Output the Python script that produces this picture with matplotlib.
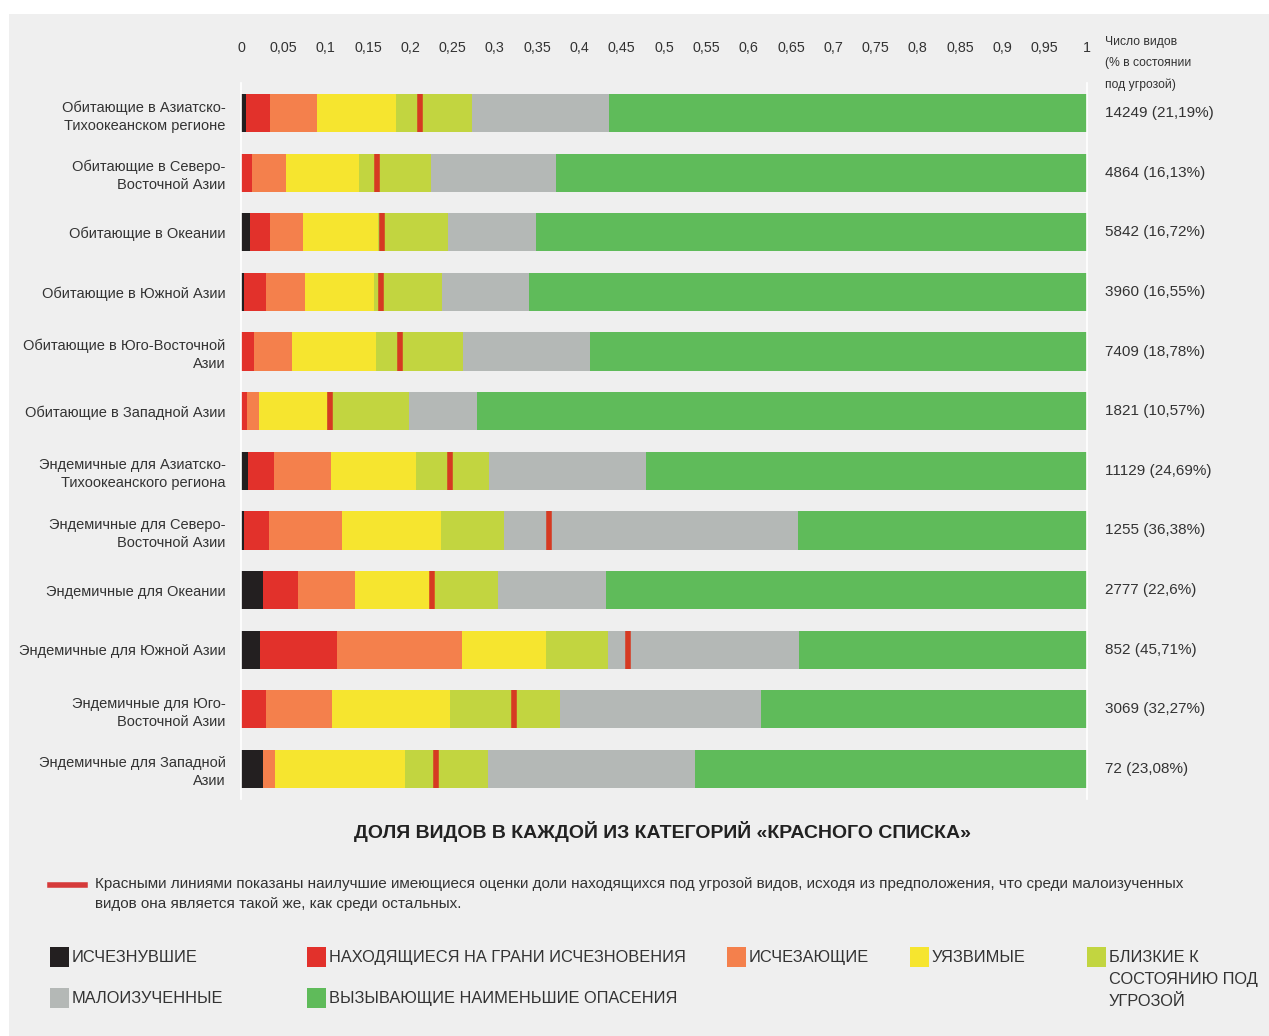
import matplotlib
matplotlib.use("Agg")
import matplotlib.pyplot as plt
from matplotlib.patches import Rectangle
from matplotlib.lines import Line2D
import numpy as np

plt.rcParams['font.family'] = ['Liberation Sans', 'DejaVu Sans']

regions = [
    "Обитающие в Азиатско-\nТихоокеанском регионе",
    "Обитающие в Северо-\nВосточной Азии",
    "Обитающие в Океании",
    "Обитающие в Южной Азии",
    "Обитающие в Юго-Восточной\nАзии",
    "Обитающие в Западной Азии",
    "Эндемичные для Азиатско-\nТихоокеанского региона",
    "Эндемичные для Северо-\nВосточной Азии",
    "Эндемичные для Океании",
    "Эндемичные для Южной Азии",
    "Эндемичные для Юго-\nВосточной Азии",
    "Эндемичные для Западной\nАзии",
]

extinct      = [0.006, 0.000, 0.011, 0.004, 0.000, 0.000, 0.008, 0.004, 0.026, 0.023, 0.000, 0.026]
critically   = [0.028, 0.013, 0.023, 0.026, 0.015, 0.007, 0.031, 0.029, 0.041, 0.091, 0.030, 0.000]
endangered   = [0.056, 0.040, 0.039, 0.046, 0.045, 0.014, 0.067, 0.086, 0.068, 0.147, 0.078, 0.014]
vulnerable   = [0.093, 0.086, 0.089, 0.081, 0.100, 0.081, 0.101, 0.117, 0.094, 0.100, 0.139, 0.154]
near_threat  = [0.090, 0.085, 0.083, 0.081, 0.102, 0.096, 0.086, 0.075, 0.075, 0.073, 0.130, 0.098]
data_def     = [0.162, 0.148, 0.104, 0.102, 0.150, 0.081, 0.186, 0.347, 0.127, 0.226, 0.238, 0.245]
least_conc   = [0.565, 0.628, 0.651, 0.660, 0.588, 0.721, 0.521, 0.342, 0.569, 0.340, 0.385, 0.463]

species_count = [14249, 4864, 5842, 3960, 7409, 1821, 11129, 1255, 2777, 852, 3069, 72]
threat_pct    = [21.19, 16.13, 16.72, 16.55, 18.78, 10.57, 24.69, 36.38, 22.6, 45.71, 32.27, 23.08]

categories = ["ИСЧЕЗНУВШИЕ", "НАХОДЯЩИЕСЯ НА ГРАНИ ИСЧЕЗНОВЕНИЯ", "ИСЧЕЗАЮЩИЕ", "УЯЗВИМЫЕ",
              "БЛИЗКИЕ К\nСОСТОЯНИЮ ПОД\nУГРОЗОЙ", "МАЛОИЗУЧЕННЫЕ", "ВЫЗЫВАЮЩИЕ НАИМЕНЬШИЕ ОПАСЕНИЯ"]
colors = ["#231f20", "#e2312b", "#f4804c", "#f6e52f", "#c2d540", "#b4b8b6", "#5fbb5a"]

xticks = [0, 0.05, 0.1, 0.15, 0.2, 0.25, 0.3, 0.35, 0.4, 0.45, 0.5, 0.55, 0.6, 0.65, 0.7, 0.75,
          0.8, 0.85, 0.9, 0.95, 1]

title = "ДОЛЯ ВИДОВ В КАЖДОЙ ИЗ КАТЕГОРИЙ «КРАСНОГО СПИСКА»"
note = ("Красными линиями показаны наилучшие имеющиеся оценки доли находящихся под угрозой видов, "
        "исходя из предположения, что среди малоизученных\nвидов она является такой же, как среди остальных.")
header = "Число видов\n(% в состоянии\nпод угрозой)"

TXT = "#333333"
BG = "#efefef"
W, H = 1269, 1036
fig = plt.figure(figsize=(W / 100, H / 100), dpi=100)
fig.patch.set_facecolor("white")
fig.patches.append(Rectangle((9 / W, 0), 1, 1 - 14 / H, transform=fig.transFigure,
                             facecolor=BG, edgecolor="none", zorder=-10))

ax_left, ax_right = 241 / W, 1087 / W
ax_top, ax_bot = 1 - 83.2 / H, 1 - 798.8 / H
ax = fig.add_axes([ax_left, ax_bot, ax_right - ax_left, ax_top - ax_bot])
ax.set_facecolor(BG)

y = np.arange(len(regions))
series = [extinct, critically, endangered, vulnerable, near_threat, data_def, least_conc]
left = np.zeros(len(regions))
bh = 0.64
for vals, c in zip(series, colors):
    v = np.array(vals)
    ax.barh(y, v, left=left, height=bh, color=c, edgecolor="none", zorder=2)
    left += v

ax.vlines(np.array(threat_pct) / 100, y - bh / 2, y + bh / 2, color="#d63a22", lw=4, zorder=3)

ax.set_xlim(0, 1)
ax.set_ylim(len(regions) - 0.5, -0.5)
ax.xaxis.tick_top()
ax.set_xticks(xticks)
ax.set_xticklabels([('%g' % t).replace('.', ',') for t in xticks], fontsize=10.3, color=TXT)
ax.tick_params(axis='x', length=0, pad=20)
ax.set_yticks(y)
ax.set_yticklabels(regions, fontsize=10.5, color=TXT, linespacing=1.35)
ax.tick_params(axis='y', length=0, pad=11)
for s in ["top", "bottom"]:
    ax.spines[s].set_visible(False)
for s in ["left", "right"]:
    ax.spines[s].set_color("white")
    ax.spines[s].set_linewidth(1.2)

for yi, n, p in zip(y, species_count, threat_pct):
    ax.text(1.021, yi, f"{n} ({('%g' % p).replace('.', ',')}%)", transform=ax.get_yaxis_transform(),
            ha="left", va="center", fontsize=11, color=TXT)

fig.text(1105 / W, 1 - 36 / H, header, ha="left", va="top", fontsize=8.7, color=TXT, linespacing=2.0)

fig.text(663 / W, 1 - 832 / H, title, ha="center", va="center", fontsize=14, fontweight="bold",
         color="#222222")

# note with red line
fig.lines.append(Line2D([50 / W, 85 / W], [1 - 885 / H, 1 - 885 / H], transform=fig.transFigure,
                        color="#d63a3a", lw=4))
fig.text(95 / W, 1 - 877 / H, note, ha="left", va="top", fontsize=11, color=TXT, linespacing=1.55)

# category legend
pos = [(50, 957), (307, 957), (727, 957), (910, 957), (1087, 957), (50, 998), (307, 998)]
for (px, py), lab, c in zip(pos, categories, colors):
    fig.patches.append(Rectangle((px / W, 1 - (py + 10) / H), 19 / W, 20 / H, transform=fig.transFigure,
                                 facecolor=c, edgecolor="none"))
    fig.text((px + 22) / W, 1 - (py - 7) / H, lab, ha="left", va="top", fontsize=11.8, color=TXT,
             linespacing=1.6)

fig.savefig("out.png", dpi=100, facecolor=fig.get_facecolor())
